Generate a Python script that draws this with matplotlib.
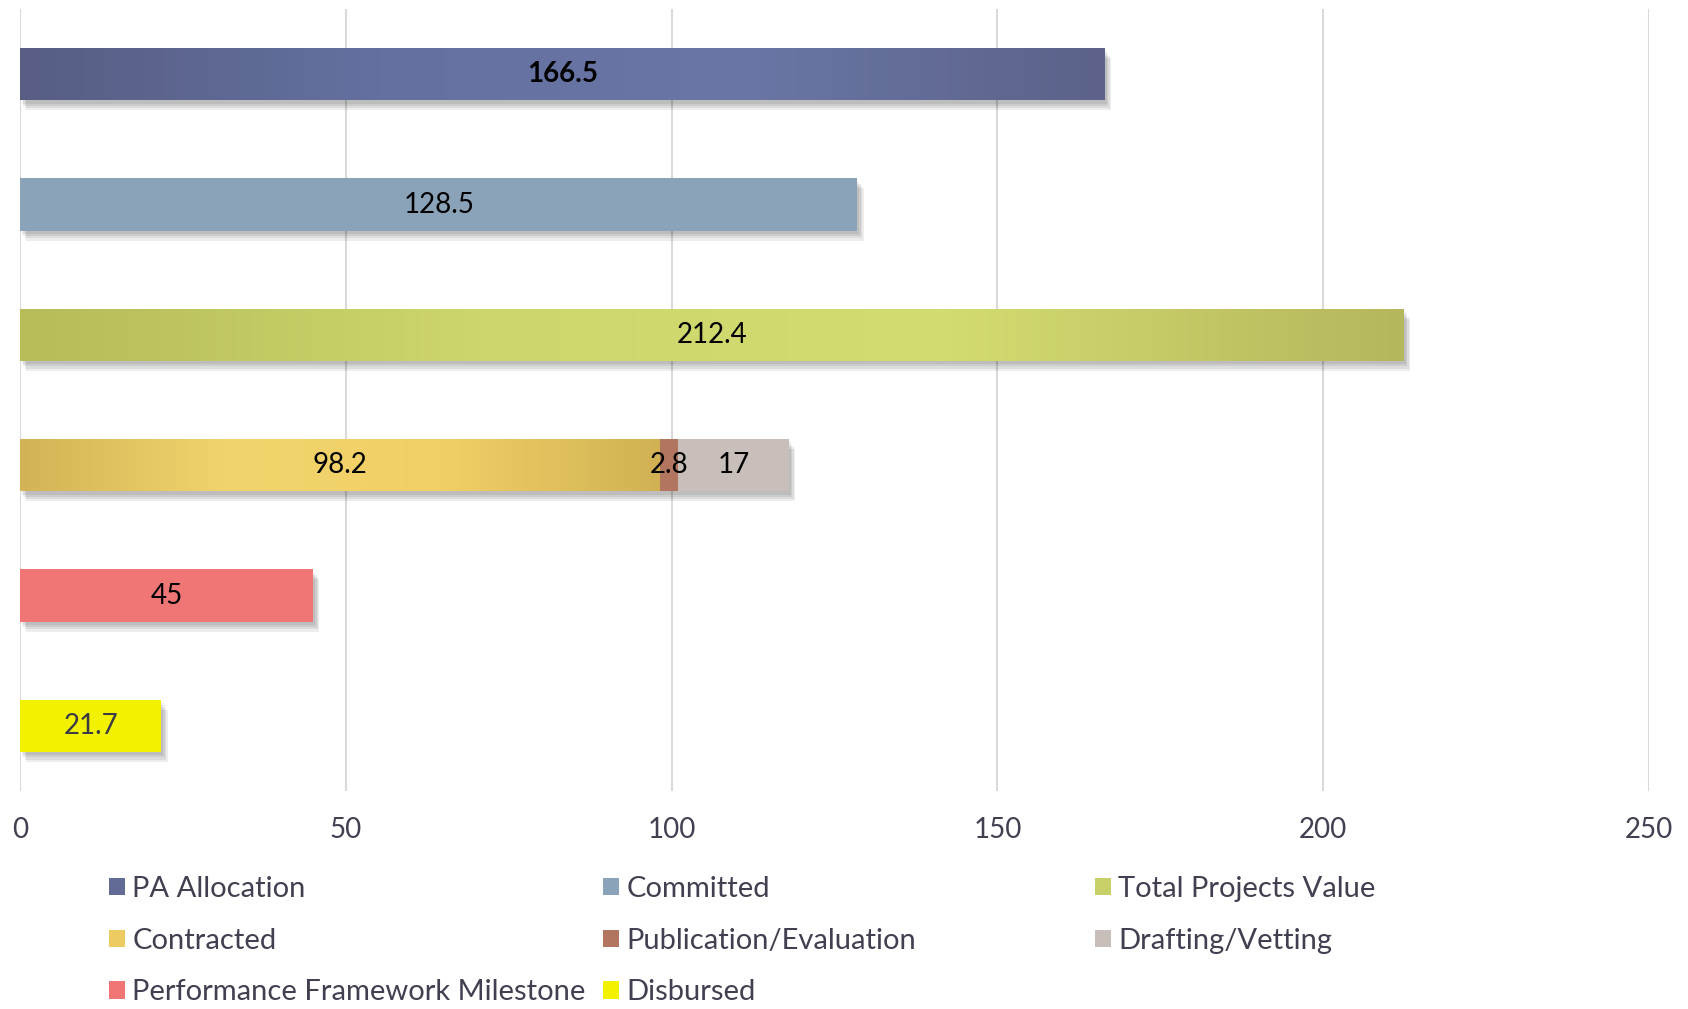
import numpy as np
import matplotlib
matplotlib.use("Agg")
import matplotlib.pyplot as plt
import matplotlib.patheffects as pe
from matplotlib.patches import Patch
from matplotlib.colors import LinearSegmentedColormap

plt.rcParams['font.family'] = ['Lato', 'DejaVu Sans']

# rows from top to bottom
row_names = ["PA Allocation", "Committed", "Total Projects Value",
             "Contracted", "Performance Framework Milestone", "Disbursed"]

pa_allocation = [166.5]
committed = [128.5]
total_projects = [212.4]
contracted = [98.2]
publication = [2.8]
drafting = [17]
performance = [45]
disbursed = [21.7]

series_names = ["PA Allocation", "Committed", "Total Projects Value",
                "Contracted", "Publication/Evaluation", "Drafting/Vetting",
                "Performance Framework Milestone", "Disbursed"]
colors = ["#626a96", "#8aa3b8", "#c8d068", "#eccb62", "#b27560",
          "#c9bfba", "#f07676", "#f2f200"]
gradients = {
    "PA Allocation": ["#585e84", "#6470a0", "#6a76a6", "#5c6289"],
    "Total Projects Value": ["#b6bc58", "#cdd66c", "#d3dc70", "#b5b75c"],
    "Contracted": ["#d4b357", "#f3d46c", "#f0cf66", "#d2b154"],
}
text_col = "#404050"

fig = plt.figure(figsize=(16.88, 10.09), dpi=100)
ax = fig.add_axes([20 / 1688, 1 - 791 / 1009, 1629 / 1688, 782 / 1009])

y = np.arange(len(row_names))[::-1]
h = 0.4
# soft shadow: a few faint offset copies
shadow = [pe.SimplePatchShadow(offset=(o, -1.6 * o), shadow_rgbFace="k", alpha=0.07)
          for o in (4.5, 3.5, 2.5, 1.5)] + [pe.Normal()]


def draw_bar(ypos, left, width, name, label, bold=False, lab_col="black"):
    c = colors[series_names.index(name)]
    b = ax.barh(ypos, width, left=left, height=h, color=c, zorder=3)[0]
    b.set_path_effects(shadow)
    if name in gradients:
        cmap = LinearSegmentedColormap.from_list(name, gradients[name])
        grad = np.linspace(0, 1, 256).reshape(1, -1)
        im = ax.imshow(grad, cmap=cmap, aspect="auto", zorder=4,
                       extent=[left, left + width, ypos - h / 2, ypos + h / 2])
        im.set_clip_path(b)
    ax.text(left + width / 2, ypos, label, ha="center", va="center",
            fontsize=20, color=lab_col, zorder=5,
            fontweight="bold" if bold else "normal")


draw_bar(y[0], 0, pa_allocation[0], "PA Allocation", "166.5", bold=True)
draw_bar(y[1], 0, committed[0], "Committed", "128.5")
draw_bar(y[2], 0, total_projects[0], "Total Projects Value", "212.4")
draw_bar(y[3], 0, contracted[0], "Contracted", "98.2")
draw_bar(y[3], contracted[0], publication[0], "Publication/Evaluation", "2.8")
draw_bar(y[3], contracted[0] + publication[0], drafting[0], "Drafting/Vetting", "17")
draw_bar(y[4], 0, performance[0], "Performance Framework Milestone", "45")
draw_bar(y[5], 0, disbursed[0], "Disbursed", "21.7", lab_col="#3a3a44")

ax.set_xlim(0, 250)
ax.set_ylim(-0.5, len(row_names) - 0.5)
ax.set_xticks([0, 50, 100, 150, 200, 250])
ax.set_yticks([])
ax.grid(axis="x", color="#d9d9d9", linewidth=1.5, zorder=0)
ax.set_axisbelow(True)
ax.tick_params(axis="x", length=0, pad=19, labelsize=20, labelcolor=text_col)
for s in ax.spines.values():
    s.set_visible(False)

# legend: three equal-width columns, row-major order
cols = [series_names[0::3], series_names[1::3], series_names[2::3]]
col_x = [109 / 1688, 603 / 1688, 1095 / 1688]
for names, cx in zip(cols, col_x):
    handles = [Patch(facecolor=colors[series_names.index(n)], label=n) for n in names]
    fig.legend(handles=handles, loc="upper left", bbox_to_anchor=(cx, 1 - 876 / 1009),
               frameon=False, fontsize=21, labelcolor=text_col,
               handlelength=0.55, handleheight=0.55, handletextpad=0.25,
               labelspacing=0.88, borderaxespad=0, borderpad=0)

fig.savefig("out.png", dpi=100)
